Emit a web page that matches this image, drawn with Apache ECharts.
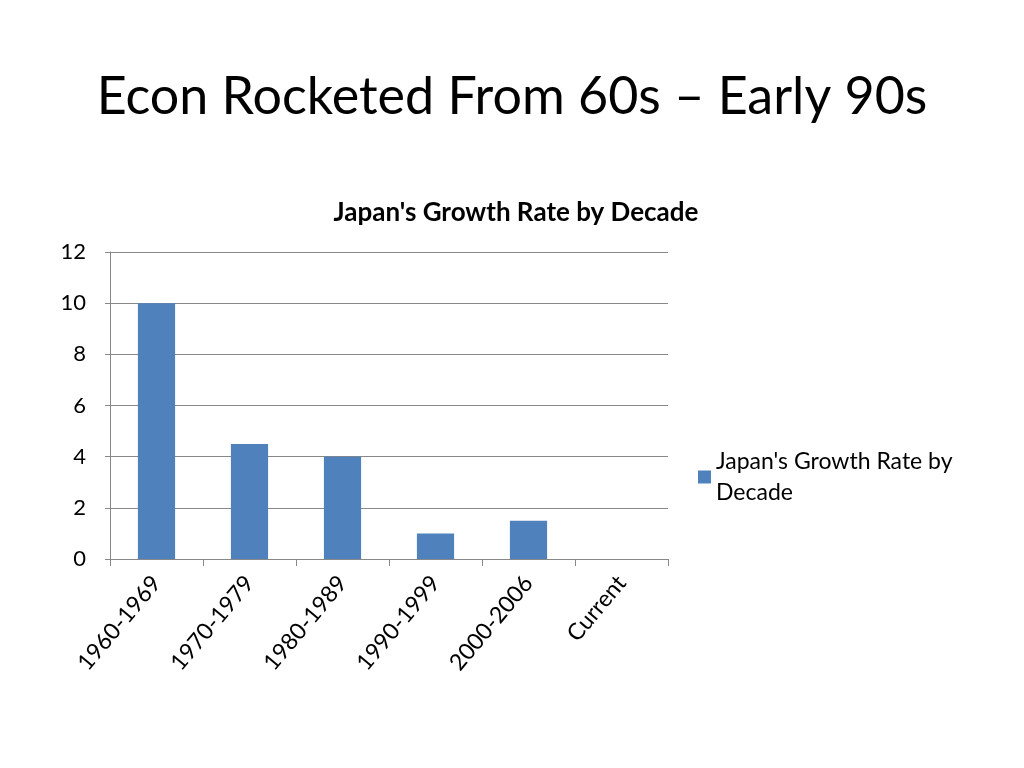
<!DOCTYPE html>
<html><head><meta charset="utf-8">
<script src="https://cdn.jsdelivr.net/npm/echarts@6/dist/echarts.min.js"></script>
<style>html,body{margin:0;padding:0;background:#fff}#c{width:1024px;height:768px}</style>
</head><body><div id="c"></div>
<script>
const categories = ['1960-1969','1970-1979','1980-1989','1990-1999','2000-2006','Current'];
const growth = [10, 4.5, 4, 1, 1.5, null];
const yTicks = [0, 2, 4, 6, 8, 10, 12];
const F = 'Lato, "Open Sans", sans-serif';
const chart = echarts.init(document.getElementById('c'));
chart.setOption({
  animation:false,
  title:[
    {text:'Econ Rocketed From 60s – Early 90s',left:'center',top:66,textStyle:{fontFamily:F,fontSize:52,fontWeight:'normal',color:'#000'}},
    {text:"Japan's Growth Rate by Decade",left:511,textAlign:'center',top:195,textStyle:{fontFamily:F,fontSize:26,fontWeight:'bold',color:'#000'}}
  ],
  legend:{left:693,top:426,orient:'vertical',itemWidth:13,itemHeight:13,icon:'rect',
    formatter:()=>"Japan's Growth Rate by\nDecade",
    textStyle:{fontFamily:F,fontSize:23,color:'#000',lineHeight:31,padding:[30,0,0,0]}},
  grid:{left:110,top:252,width:558,height:307,containLabel:false},
  xAxis:{type:'category',data:categories,
    axisLine:{lineStyle:{color:'#888'}},axisTick:{show:true,length:7,lineStyle:{color:'#888'}},
    axisLabel:{rotate:50,fontFamily:F,fontSize:23,color:'#000',margin:20}},
  yAxis:{type:'value',min:0,max:12,interval:2,
    axisLine:{show:true,lineStyle:{color:'#888'}},axisTick:{show:true,length:5,lineStyle:{color:'#888'}},
    splitLine:{lineStyle:{color:'#888'}},
    axisLabel:{fontFamily:F,fontSize:22,color:'#000',margin:24,formatter:v=>yTicks.includes(v)?String(v):''}},
  series:[{type:'bar',name:"Japan's Growth Rate by Decade",data:growth,barWidth:'40%',itemStyle:{color:'#4F81BD'}}]
});
</script></body></html>
